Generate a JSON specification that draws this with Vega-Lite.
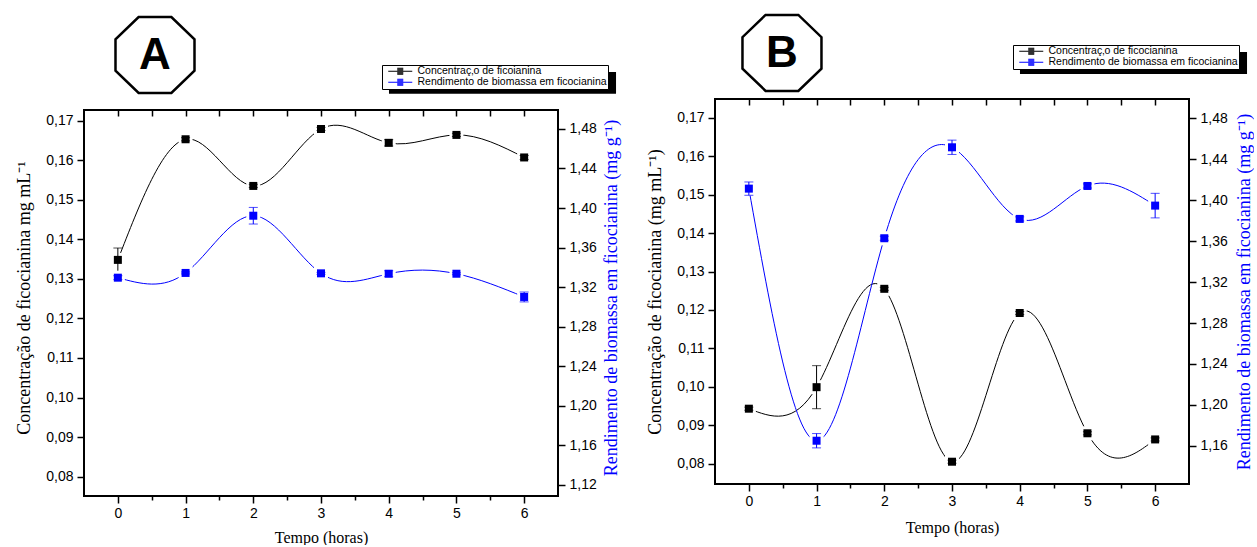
{
  "$schema": "https://vega.github.io/schema/vega-lite/v6.json",
  "padding": {"left": 15, "top": 9, "right": 0, "bottom": 0},
  "background": "white",
  "datasets": {
    "A_conc": [
      {"t": 0, "v": 0.1348, "e": 0.003, "serie": "Concentraç‚o de ficoianina"},
      {"t": 1, "v": 0.1653, "e": 0.0004, "serie": "Concentraç‚o de ficoianina"},
      {"t": 2, "v": 0.1535, "e": 0.0004, "serie": "Concentraç‚o de ficoianina"},
      {"t": 3, "v": 0.1679, "e": 0.0004, "serie": "Concentraç‚o de ficoianina"},
      {"t": 4, "v": 0.1644, "e": 0.0008, "serie": "Concentraç‚o de ficoianina"},
      {"t": 5, "v": 0.1664, "e": 0.0004, "serie": "Concentraç‚o de ficoianina"},
      {"t": 6, "v": 0.1607, "e": 0.0005, "serie": "Concentraç‚o de ficoianina"}
    ],
    "A_rend": [
      {"t": 0, "v": 1.3295, "e": 0.002, "serie": "Rendimento de biomassa em ficocianina"},
      {"t": 1, "v": 1.3343, "e": 0.001, "serie": "Rendimento de biomassa em ficocianina"},
      {"t": 2, "v": 1.3922, "e": 0.0084, "serie": "Rendimento de biomassa em ficocianina"},
      {"t": 3, "v": 1.3339, "e": 0.001, "serie": "Rendimento de biomassa em ficocianina"},
      {"t": 4, "v": 1.3335, "e": 0.003, "serie": "Rendimento de biomassa em ficocianina"},
      {"t": 5, "v": 1.3335, "e": 0.001, "serie": "Rendimento de biomassa em ficocianina"},
      {"t": 6, "v": 1.31, "e": 0.005, "serie": "Rendimento de biomassa em ficocianina"}
    ],
    "B_conc": [
      {"t": 0, "v": 0.0943, "e": 0.0004, "serie": "Concentraç‚o de ficocianina"},
      {"t": 1, "v": 0.0999, "e": 0.0056, "serie": "Concentraç‚o de ficocianina"},
      {"t": 2, "v": 0.1255, "e": 0.0004, "serie": "Concentraç‚o de ficocianina"},
      {"t": 3, "v": 0.0805, "e": 0.0004, "serie": "Concentraç‚o de ficocianina"},
      {"t": 4, "v": 0.1192, "e": 0.0004, "serie": "Concentraç‚o de ficocianina"},
      {"t": 5, "v": 0.0879, "e": 0.0004, "serie": "Concentraç‚o de ficocianina"},
      {"t": 6, "v": 0.0863, "e": 0.0004, "serie": "Concentraç‚o de ficocianina"}
    ],
    "B_rend": [
      {"t": 0, "v": 1.4114, "e": 0.0065, "serie": "Rendimento de biomassa em ficocianina"},
      {"t": 1, "v": 1.165, "e": 0.007, "serie": "Rendimento de biomassa em ficocianina"},
      {"t": 2, "v": 1.3629, "e": 0.002, "serie": "Rendimento de biomassa em ficocianina"},
      {"t": 3, "v": 1.4518, "e": 0.007, "serie": "Rendimento de biomassa em ficocianina"},
      {"t": 4, "v": 1.3818, "e": 0.002, "serie": "Rendimento de biomassa em ficocianina"},
      {"t": 5, "v": 1.414, "e": 0.002, "serie": "Rendimento de biomassa em ficocianina"},
      {"t": 6, "v": 1.3948, "e": 0.012, "serie": "Rendimento de biomassa em ficocianina"}
    ]
  },
  "spacing": 25,
  "hconcat": [
    {
      "width": 474,
      "height": 397,
      "layer": [
        {
          "data": {"name": "A_conc"},
          "encoding": {
            "x": {"field": "t", "type": "quantitative", "scale": {"domain": [-0.5, 6.5], "nice": false, "zero": false},
              "axis": {"orient": "bottom", "values": [0, 1, 2, 3, 4, 5, 6], "format": "d", "tickSize": 7, "labelPadding": 3, "title": "Tempo (horas)", "titleFontSize": 16, "titlePadding": 9}},
            "y": {"field": "v", "type": "quantitative", "scale": {"domain": [0.0751, 0.17548], "nice": false, "zero": false},
              "axis": {"orient": "left", "values": [0.08, 0.09, 0.1, 0.11, 0.12, 0.13, 0.14, 0.15, 0.16, 0.17], "labelExpr": "replace(format(datum.value, '.2f'), '.', ',')", "tickSize": 7, "labelPadding": 4, "title": "Concentração de ficocianina mg mL⁻¹", "titlePadding": 12}}
          },
          "layer": [
            {"mark": {"type": "line", "interpolate": "natural", "strokeWidth": 1},
              "encoding": {
                "color": {"field": "serie", "type": "nominal", "scale": {"domain": ["Concentraç‚o de ficoianina", "Rendimento de biomassa em ficocianina"], "range": ["black", "#0000ff"]},
                  "legend": {"orient": "none", "legendX": 298, "legendY": -34, "title": null, "direction": "vertical", "fillColor": "white", "strokeColor": "black", "padding": 1, "rowPadding": -1, "labelFont": "Liberation Sans", "labelFontSize": 10.5, "labelColor": "black", "labelLimit": 400, "symbolType": "M-4,0H4M-1,-1H1M-1,-0.667H1M-1,-0.333H1M-1,0.333H1M-1,0.667H1M-1,1H1", "symbolSize": 36, "symbolStrokeWidth": 1, "symbolOffset": 12, "labelOffset": 12, "zindex": 1}}
              }},
            {"mark": {"type": "point", "shape": "square", "filled": true, "color": "white", "size": 196, "opacity": 1}},
            {"mark": {"type": "errorbar", "ticks": true, "size": 9, "thickness": 1, "color": "black"}, "encoding": {"yError": {"field": "e"}}},
            {"mark": {"type": "point", "shape": "square", "filled": true, "size": 64, "opacity": 1, "color": "black"}}
          ]
        },
        {
          "data": {"name": "A_rend"},
          "encoding": {
            "x": {"field": "t", "type": "quantitative", "scale": {"domain": [-0.5, 6.5], "nice": false, "zero": false},
              "axis": {"orient": "top", "values": [0, 0.5, 1, 1.5, 2, 2.5, 3, 3.5, 4, 4.5, 5, 5.5, 6], "tickSize": 6, "offset": -17, "labels": false, "title": null}},
            "y": {"field": "v", "type": "quantitative", "scale": {"domain": [1.1086, 1.5103], "nice": false, "zero": false},
              "axis": {"orient": "right", "values": [1.12, 1.16, 1.2, 1.24, 1.28, 1.32, 1.36, 1.4, 1.44, 1.48], "labelExpr": "replace(format(datum.value, '.2f'), '.', ',')", "tickSize": 7, "labelPadding": 4, "title": "Rendimento de biomassa em ficocianina (mg g⁻¹)", "titleColor": "#0000ff", "titleAngle": 270, "titleBaseline": "top", "titlePadding": 6}}
          },
          "layer": [
            {"mark": {"type": "line", "interpolate": "natural", "strokeWidth": 1},
              "encoding": {
                "color": {"field": "serie", "type": "nominal", "scale": {"domain": ["Concentraç‚o de ficoianina", "Rendimento de biomassa em ficocianina"], "range": ["black", "#0000ff"]},
                  "legend": {"orient": "none", "legendX": 298, "legendY": -34, "title": null, "direction": "vertical", "fillColor": "white", "strokeColor": "black", "padding": 1, "rowPadding": -1, "labelFont": "Liberation Sans", "labelFontSize": 10.5, "labelColor": "black", "labelLimit": 400, "symbolType": "M-4,0H4M-1,-1H1M-1,-0.667H1M-1,-0.333H1M-1,0.333H1M-1,0.667H1M-1,1H1", "symbolSize": 36, "symbolStrokeWidth": 1, "symbolOffset": 12, "labelOffset": 12, "zindex": 1}}
              }},
            {"mark": {"type": "point", "shape": "square", "filled": true, "color": "white", "size": 196, "opacity": 1}},
            {"mark": {"type": "errorbar", "ticks": true, "size": 9, "thickness": 1, "color": "#0000ff"}, "encoding": {"yError": {"field": "e"}}},
            {"mark": {"type": "point", "shape": "square", "filled": true, "size": 64, "opacity": 1, "color": "#0000ff"}}
          ]
        },
        {
          "data": {"values": [{"x": 0.5485, "y": 0.1866, "lab": "A"}]},
          "encoding": {
            "x": {"field": "x", "type": "quantitative", "scale": {"domain": [-0.5, 6.5], "nice": false, "zero": false},
              "axis": {"orient": "bottom", "values": [0.5, 1.5, 2.5, 3.5, 4.5, 5.5], "tickSize": 4, "labels": false, "title": null}},
            "y": {"field": "y", "type": "quantitative", "scale": {"domain": [0.0751, 0.17548], "nice": false, "zero": false}, "axis": null}
          },
          "layer": [
            {"mark": {"type": "rect", "filled": false, "stroke": "black", "strokeWidth": 2, "opacity": 1},
              "encoding": {"x": {"datum": -0.5, "type": "quantitative"}, "x2": {"datum": 6.5}, "y": {"datum": 0.0751, "type": "quantitative"}, "y2": {"datum": 0.1727}}},
            {"mark": {"type": "rect", "color": "black", "opacity": 1},
              "encoding": {"x": {"datum": 4.004, "type": "quantitative"}, "x2": {"datum": 7.357}, "y": {"datum": 0.18231, "type": "quantitative"}, "y2": {"datum": 0.1768}}},
            {"mark": {"type": "point", "shape": "M-0.383,-0.889L0.383,-0.889L0.924,-0.368L0.924,0.368L0.383,0.889L-0.383,0.889L-0.924,0.368L-0.924,-0.368Z", "size": 7310, "filled": true, "fill": "white", "stroke": "black", "strokeWidth": 2.5, "opacity": 1}},
            {"mark": {"type": "text", "fontSize": 44, "fontWeight": "bold", "font": "Liberation Sans", "color": "black", "baseline": "middle", "align": "center", "dy": 1}, "encoding": {"text": {"field": "lab"}}}
          ]
        }
      ],
      "resolve": {"scale": {"y": "independent"}, "axis": {"x": "independent"}}
    },
    {
      "width": 474,
      "height": 385,
      "layer": [
        {
          "data": {"name": "B_conc"},
          "encoding": {
            "x": {"field": "t", "type": "quantitative", "scale": {"domain": [-0.5, 6.5], "nice": false, "zero": false},
              "axis": {"orient": "bottom", "values": [0, 1, 2, 3, 4, 5, 6], "format": "d", "tickSize": 7, "labelPadding": 3, "title": "Tempo (horas)", "titleFontSize": 16, "titlePadding": 11}},
            "y": {"field": "v", "type": "quantitative", "scale": {"domain": [0.0747, 0.1749], "nice": false, "zero": false},
              "axis": {"orient": "left", "values": [0.08, 0.09, 0.1, 0.11, 0.12, 0.13, 0.14, 0.15, 0.16, 0.17], "labelExpr": "replace(format(datum.value, '.2f'), '.', ',')", "tickSize": 7, "labelPadding": 4, "title": "Concentração de ficocianina (mg mL⁻¹)", "titlePadding": 12}}
          },
          "layer": [
            {"mark": {"type": "line", "interpolate": "natural", "strokeWidth": 1},
              "encoding": {
                "color": {"field": "serie", "type": "nominal", "scale": {"domain": ["Concentraç‚o de ficocianina", "Rendimento de biomassa em ficocianina"], "range": ["black", "#0000ff"]},
                  "legend": {"orient": "none", "legendX": 298, "legendY": -54, "title": null, "direction": "vertical", "fillColor": "white", "strokeColor": "black", "padding": 1, "rowPadding": -1, "labelFont": "Liberation Sans", "labelFontSize": 10.5, "labelColor": "black", "labelLimit": 400, "symbolType": "M-4,0H4M-1,-1H1M-1,-0.667H1M-1,-0.333H1M-1,0.333H1M-1,0.667H1M-1,1H1", "symbolSize": 36, "symbolStrokeWidth": 1, "symbolOffset": 12, "labelOffset": 12, "zindex": 1}}
              }},
            {"mark": {"type": "point", "shape": "square", "filled": true, "color": "white", "size": 196, "opacity": 1}},
            {"mark": {"type": "errorbar", "ticks": true, "size": 9, "thickness": 1, "color": "black"}, "encoding": {"yError": {"field": "e"}}},
            {"mark": {"type": "point", "shape": "square", "filled": true, "size": 64, "opacity": 1, "color": "black"}}
          ]
        },
        {
          "data": {"name": "B_rend"},
          "encoding": {
            "x": {"field": "t", "type": "quantitative", "scale": {"domain": [-0.5, 6.5], "nice": false, "zero": false},
              "axis": {"orient": "top", "values": [0, 0.5, 1, 1.5, 2, 2.5, 3, 3.5, 4, 4.5, 5, 5.5, 6], "tickSize": 6, "offset": -6, "labels": false, "title": null}},
            "y": {"field": "v", "type": "quantitative", "scale": {"domain": [1.1227, 1.499], "nice": false, "zero": false},
              "axis": {"orient": "right", "values": [1.12, 1.16, 1.2, 1.24, 1.28, 1.32, 1.36, 1.4, 1.44, 1.48], "labelExpr": "replace(format(datum.value, '.2f'), '.', ',')", "tickSize": 7, "labelPadding": 4, "title": "Rendimento de biomassa em ficocianina (mg g⁻¹)", "titleColor": "#0000ff", "titleAngle": 270, "titleBaseline": "top", "titlePadding": 8}}
          },
          "layer": [
            {"mark": {"type": "line", "interpolate": "natural", "strokeWidth": 1},
              "encoding": {
                "color": {"field": "serie", "type": "nominal", "scale": {"domain": ["Concentraç‚o de ficocianina", "Rendimento de biomassa em ficocianina"], "range": ["black", "#0000ff"]},
                  "legend": {"orient": "none", "legendX": 298, "legendY": -54, "title": null, "direction": "vertical", "fillColor": "white", "strokeColor": "black", "padding": 1, "rowPadding": -1, "labelFont": "Liberation Sans", "labelFontSize": 10.5, "labelColor": "black", "labelLimit": 400, "symbolType": "M-4,0H4M-1,-1H1M-1,-0.667H1M-1,-0.333H1M-1,0.333H1M-1,0.667H1M-1,1H1", "symbolSize": 36, "symbolStrokeWidth": 1, "symbolOffset": 12, "labelOffset": 12, "zindex": 1}}
              }},
            {"mark": {"type": "point", "shape": "square", "filled": true, "color": "white", "size": 196, "opacity": 1}},
            {"mark": {"type": "errorbar", "ticks": true, "size": 9, "thickness": 1, "color": "#0000ff"}, "encoding": {"yError": {"field": "e"}}},
            {"mark": {"type": "point", "shape": "square", "filled": true, "size": 64, "opacity": 1, "color": "#0000ff"}}
          ]
        },
        {
          "data": {"values": [{"x": 0.489, "y": 0.1869, "lab": "B"}]},
          "encoding": {
            "x": {"field": "x", "type": "quantitative", "scale": {"domain": [-0.5, 6.5], "nice": false, "zero": false},
              "axis": {"orient": "bottom", "values": [0.5, 1.5, 2.5, 3.5, 4.5, 5.5], "tickSize": 4, "labels": false, "title": null}},
            "y": {"field": "y", "type": "quantitative", "scale": {"domain": [0.0747, 0.1749], "nice": false, "zero": false}, "axis": null}
          },
          "layer": [
            {"mark": {"type": "rect", "filled": false, "stroke": "black", "strokeWidth": 2, "opacity": 1},
              "encoding": {"x": {"datum": -0.5, "type": "quantitative"}, "x2": {"datum": 6.5}, "y": {"datum": 0.0747, "type": "quantitative"}, "y2": {"datum": 0.1749}}},
            {"mark": {"type": "rect", "color": "black", "opacity": 1},
              "encoding": {"x": {"datum": 4.004, "type": "quantitative"}, "x2": {"datum": 7.357}, "y": {"datum": 0.18713, "type": "quantitative"}, "y2": {"datum": 0.18141}}},
            {"mark": {"type": "point", "shape": "M-0.383,-0.889L0.383,-0.889L0.924,-0.368L0.924,0.368L0.383,0.889L-0.383,0.889L-0.924,0.368L-0.924,-0.368Z", "size": 7310, "filled": true, "fill": "white", "stroke": "black", "strokeWidth": 2.5, "opacity": 1}},
            {"mark": {"type": "text", "fontSize": 44, "fontWeight": "bold", "font": "Liberation Sans", "color": "black", "baseline": "middle", "align": "center", "dy": 1}, "encoding": {"text": {"field": "lab"}}}
          ]
        }
      ],
      "resolve": {"scale": {"y": "independent"}, "axis": {"x": "independent"}}
    }
  ],
  "resolve": {"scale": {"color": "independent"}, "legend": {"color": "independent"}},
  "config": {
    "view": {"stroke": null},
    "axis": {"grid": false, "domain": false, "tickColor": "black", "tickWidth": 1.5, "labelColor": "black", "labelFont": "Liberation Sans", "labelFontSize": 14, "titleFont": "Liberation Serif", "titleFontSize": 18, "titleFontWeight": "normal", "titleColor": "black"}
  }
}
